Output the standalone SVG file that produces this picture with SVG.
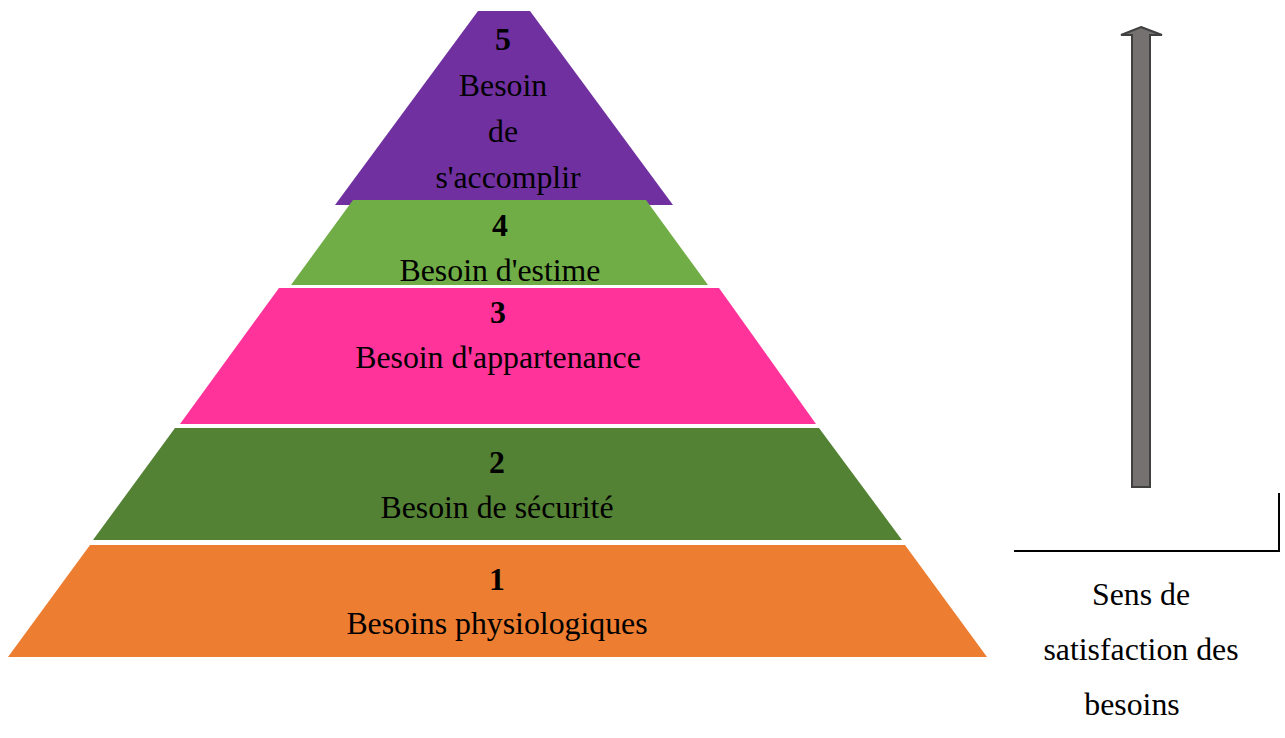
<svg xmlns="http://www.w3.org/2000/svg" width="1285" height="738" viewBox="0 0 1285 738">
<style>
text{font-family:"Liberation Serif","Times New Roman",serif;font-size:31.8px;fill:#000;text-anchor:middle}
.n{font-weight:bold}
</style>
<rect width="1285" height="738" fill="#fff"/>
<g id="level5">
<polygon points="478,11 530,11 673,205 335,205" fill="#7030A0"/>
<text x="503" y="50" class="n">5</text>
<text x="503" y="96">Besoin</text>
<text x="503" y="142">de</text>
<text x="508" y="188">s'accomplir</text>
</g>
<g id="level4">
<polygon points="353,200 646,200 708,285 291,285" fill="#70AD47"/>
<text x="500" y="236" class="n">4</text>
<text x="500" y="281">Besoin d'estime</text>
</g>
<g id="level3">
<polygon points="279,288 719,288 816,424 180,424" fill="#FF3399"/>
<text x="498" y="323" class="n">3</text>
<text x="498" y="368">Besoin d'appartenance</text>
</g>
<g id="level2">
<polygon points="175,428 819,428 902,540 93,540" fill="#548235"/>
<text x="497" y="473" class="n">2</text>
<text x="497" y="518">Besoin de sécurité</text>
</g>
<g id="level1">
<polygon points="90,545 905,545 987,657 8,657" fill="#ED7D31"/>
<text x="497" y="590" class="n">1</text>
<text x="497" y="634">Besoins physiologiques</text>
</g>
<g id="connectors">
<polygon points="1141,27 1162,35 1150,35 1150,487 1132,487 1132,35 1121,35" fill="#767171" stroke="#404040" stroke-width="2" stroke-linejoin="miter"/>
<polyline points="1014,551 1279,551 1279,493" fill="none" stroke="#000" stroke-width="2"/>
</g>
<g id="label">
<text x="1141" y="605">Sens de</text>
<text x="1141" y="660">satisfaction des</text>
<text x="1132" y="715">besoins</text>
</g>
</svg>
